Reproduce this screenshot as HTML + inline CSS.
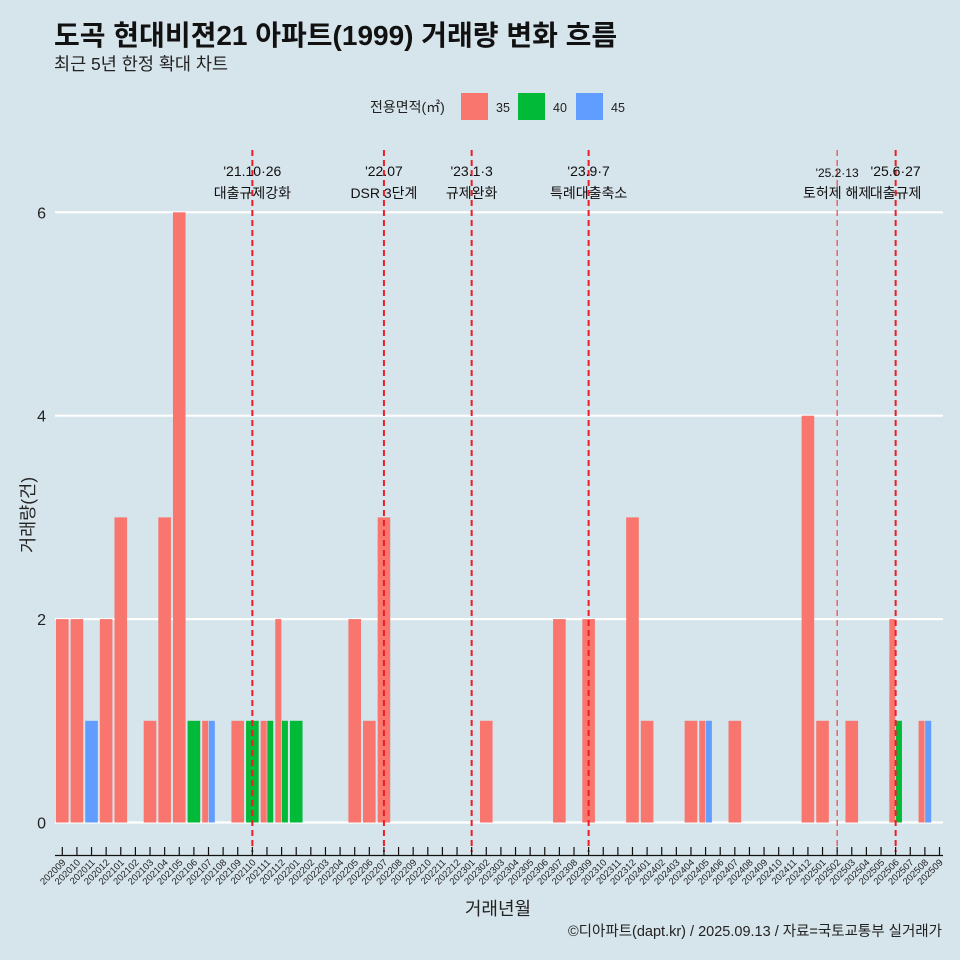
<!DOCTYPE html>
<html><head><meta charset="utf-8">
<style>
html,body{margin:0;padding:0;background:#d6e4eb;}
svg{display:block;font-family:"Liberation Sans","Noto Sans CJK KR",sans-serif;}
</style></head>
<body>
<svg id="chart" width="960" height="960" viewBox="0 0 960 960">
<rect width="960" height="960" fill="#d6e4eb"/>
<text x="54" y="45" font-size="28" font-weight="bold" fill="#111">도곡 현대비젼21 아파트(1999) 거래량 변화 흐름</text>
<text x="54" y="70" font-size="17.5" fill="#222">최근 5년 한정 확대 차트</text>
<g>
<text x="370" y="112" font-size="14" fill="#222">전용면적(㎡)</text>
<rect x="461" y="93" width="27" height="27" fill="#f8766d"/>
<text x="496" y="112" font-size="12.5" fill="#222">35</text>
<rect x="518" y="93" width="27" height="27" fill="#00ba38"/>
<text x="553" y="112" font-size="12.5" fill="#222">40</text>
<rect x="576" y="93" width="27" height="27" fill="#619cff"/>
<text x="611" y="112" font-size="12.5" fill="#222">45</text>
</g>
<g id="plot"></g>
<text x="498" y="915" font-size="18" text-anchor="middle" fill="#222">거래년월</text>
<text transform="translate(34,515) rotate(-90)" font-size="17.5" text-anchor="middle" fill="#222">거래량(건)</text>
<text x="942" y="936" font-size="14.5" text-anchor="end" fill="#222">©디아파트(dapt.kr) / 2025.09.13 / 자료=국토교통부 실거래가</text>
</svg>
<script>
const months = [];
for (let yy = 2020, mm = 9; yy * 100 + mm <= 202509; ) { months.push(String(yy * 100 + mm)); mm++; if (mm > 12) { mm = 1; yy++; } }
const barMonths = ["202009","202010","202011","202012","202101","202103","202104","202105","202106","202107","202107","202109","202110","202111","202111","202112","202112","202201","202205","202206","202207","202302","202307","202309","202312","202401","202404","202405","202405","202407","202412","202501","202503","202506","202506","202508","202508"];
const barAreas  = ["35","35","45","35","35","35","35","35","40","35","45","35","40","35","40","35","40","40","35","35","35","35","35","35","35","35","35","35","45","35","35","35","35","35","40","35","45"];
const barCounts = [2,2,1,2,3,1,3,6,1,1,1,1,1,1,1,2,1,1,2,1,3,1,2,2,3,1,1,1,1,1,4,1,1,2,1,1,1];
const yTicks = [0,2,4,6];
const eventMonths = ["202110","202207","202301","202309","202502","202506"];
const eventDates = ["'21.10·26","'22.07","'23.1·3","'23.9·7","'25.2·13","'25.6·27"];
const eventLabels = ["대출규제강화","DSR 3단계","규제완화","특례대출축소","토허제 해제","대출규제"];
const colors = {"35":"#f8766d","40":"#00ba38","45":"#619cff"};

const NS = "http://www.w3.org/2000/svg";
const plot = document.getElementById("plot");
function x(m){ return 62.3 + 14.62 * months.indexOf(m); }
function y(v){ return 822.5 - 101.7 * v; }
function mk(tag, attrs){ const e = document.createElementNS(NS, tag); for (const k in attrs) e.setAttribute(k, attrs[k]); plot.appendChild(e); return e; }

yTicks.forEach(t => {
  const g = mk("line", {x1:55, x2:943, y1:y(t), y2:y(t), stroke:"#ffffff", "stroke-width":2.2});
  
  
  const l = mk("text", {x:46, y:y(t)+6, "font-size":16, "text-anchor":"end", fill:"#222"});
  l.textContent = t;
  
  
});

const bw = 13.2;
barMonths.forEach((m, i) => {
  const idx = [];
  barMonths.forEach((mm, j) => { if (mm === m) idx.push(j); });
  const n = idx.length, k = idx.indexOf(i);
  const w = bw / n;
  const x0 = x(m) - bw / 2 + k * w;
  const r = mk("rect", {x:x0 + 0.3, y:y(barCounts[i]), width:w - 0.6, height:y(0) - y(barCounts[i]), fill:colors[barAreas[i]]});
  
  
});

eventMonths.forEach((m, i) => {
  const thin = m === "202502";
  const ln = mk("line", {x1:x(m), x2:x(m), y1:150, y2:852, stroke:thin ? "#e8464a" : "#ee1c25", "stroke-width":thin ? 1.2 : 2, "stroke-dasharray":"6,4"});
  
  
  const fs = thin ? 12 : 14;
  const d = mk("text", {x:x(m), y:thin ? 177 : 176, "font-size":fs, "text-anchor":"middle", fill:"#111"});
  d.textContent = eventDates[i];
  
  
  const t = mk("text", {x:x(m), y:198, "font-size":14, "text-anchor":"middle", fill:"#111"});
  t.textContent = eventLabels[i];
  
  
});

const ax = mk("line", {x1:55, x2:943, y1:855.5, y2:855.5, stroke:"#111", "stroke-width":1.2});


months.forEach(m => {
  const tk = mk("line", {x1:x(m), x2:x(m), y1:847, y2:855, stroke:"#111", "stroke-width":1.2});
  
  
  const lb = mk("text", {transform:"translate(" + (x(m) + 4) + ",863) rotate(-45)", "font-size":9.5, "text-anchor":"end", fill:"#222"});
  lb.textContent = m;
  
  
});
</script>
</body></html>
